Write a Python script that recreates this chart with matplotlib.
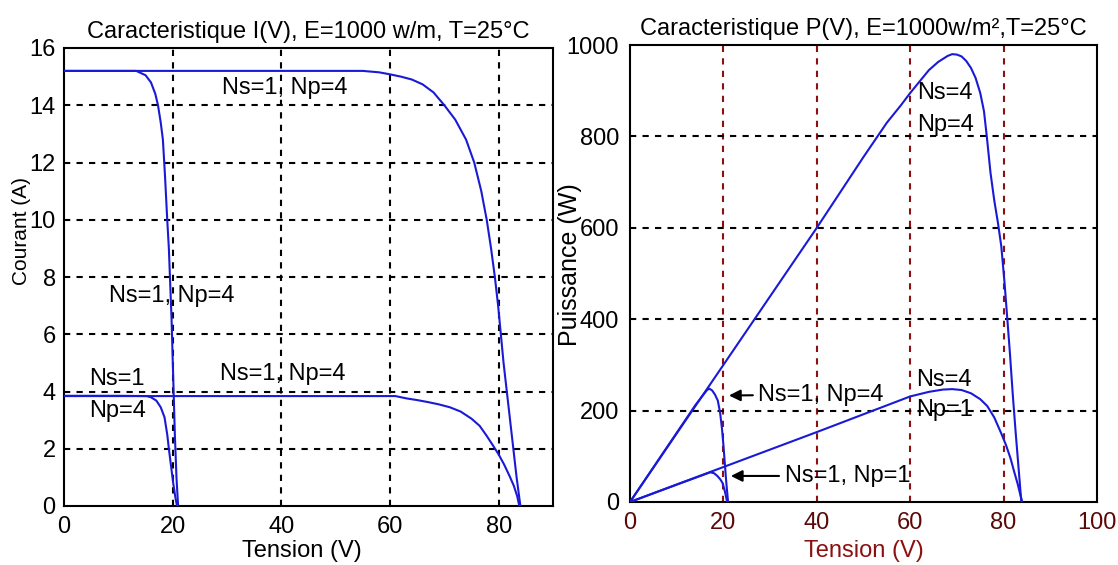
import matplotlib.pyplot as plt

# I(V) curves
v_a = [0, 5, 10, 13.3, 15, 16, 16.8, 17.3, 17.8, 18.2, 18.6, 19.0, 19.3, 19.5, 19.8, 20.1, 20.4, 20.7, 21.0]
i_a = [15.2, 15.2, 15.2, 15.2, 15.05, 14.8, 14.4, 14.0, 13.4, 12.8, 11.5, 10.0, 9.0, 8.0, 6.5, 4.5, 2.5, 1.0, 0]

v_b = [0, 20, 40, 55, 58, 60, 62, 64, 66, 68, 70, 72, 74, 75.5, 76.8, 77.8, 78.6, 79.3,
       79.9, 80.4, 80.9, 81.5, 82.1, 82.7, 83.3, 84.0]
i_b = [15.2, 15.2, 15.2, 15.2, 15.15, 15.08, 15.0, 14.9, 14.73, 14.45, 14.0, 13.5, 12.8, 12.0, 11.0, 10.0, 9.0, 8.0,
       7.0, 6.0, 5.0, 4.0, 3.0, 2.0, 1.0, 0]

v_c = [0, 10, 15.2, 16, 17, 17.8, 18.5, 19, 19.3, 19.7, 20.1, 20.5, 20.8]
i_c = [3.85, 3.85, 3.84, 3.8, 3.68, 3.45, 3.1, 2.5, 2.0, 1.4, 0.8, 0.3, 0]

v_d = [0, 20, 40, 61, 63, 65, 67, 69, 71, 73, 75, 76.5, 77.8, 79, 80, 81, 82, 82.8, 83.4, 83.8]
i_d = [3.84, 3.84, 3.84, 3.84, 3.76, 3.7, 3.63, 3.55, 3.45, 3.3, 3.05, 2.8, 2.45, 2.1, 1.8, 1.45, 1.05, 0.7, 0.35, 0]

# P(V) curves
v_p44 = [0, 20, 40, 50, 55, 58, 60, 62, 64, 66, 68, 69, 70, 71, 72, 73, 74, 75, 75.8, 76.4,
         77.2, 78, 78.8, 79.5, 80.2, 80.8, 81.3, 82, 82.6, 83.2, 83.8]
p_p44 = [0, 300, 600, 755, 830, 868, 895, 920, 945, 963, 976, 980, 979, 975, 965, 950, 928, 895, 855, 800,
         720, 660, 610, 560, 480, 400, 333, 230, 150, 75, 0]

v_p41 = [0, 40, 60, 64, 67, 69, 71, 73, 75, 76.5, 78, 79.5, 80.5, 81.5, 82.3, 83, 83.6, 84]
p_p41 = [0, 153, 231, 241, 246, 247, 245, 238, 225, 210, 185, 150, 125, 95, 65, 40, 15, 0]

v_p14 = [0, 14, 15.5, 16.5, 17, 17.6, 18.2, 18.8, 19.3, 19.7, 20.0, 20.3, 20.6, 21.0]
p_p14 = [0, 212, 232, 245, 248, 244, 235, 222, 195, 160, 125, 85, 45, 0]

v_p11 = [0, 10, 17.2, 18, 18.7, 19.3, 19.8, 20.2, 20.5, 20.8]
p_p11 = [0, 38, 65, 63, 57, 50, 42, 28, 15, 0]

x_ticks_i = [0, 20, 40, 60, 80]
y_ticks_i = [0, 2, 4, 6, 8, 10, 12, 14, 16]
x_ticks_p = [0, 20, 40, 60, 80, 100]
y_ticks_p = [0, 200, 400, 600, 800, 1000]

plt.rcParams['font.family'] = ['Liberation Sans', 'DejaVu Sans']
plt.rcParams['font.size'] = 17

blue = "#1a1ad6"
dred = "#8b1010"
grid_ls = (0, (3, 3))
fig = plt.figure(figsize=(11.18, 5.65), dpi=100)

###  L E F T :  I(V)
ax1 = fig.add_axes([64/1118, 1-506/565, 489/1118, 458/565])
for v, i in [(v_a, i_a), (v_b, i_b), (v_c, i_c), (v_d, i_d)]:
    ax1.plot(v, i, color=blue, lw=1.5, zorder=3)
ax1.set_xlim(0, 90)
ax1.set_ylim(0, 16)
ax1.set_xticks(x_ticks_i)
ax1.set_yticks(y_ticks_i)
for x in [20, 40, 60, 80]:
    ax1.axvline(x, color="black", ls=grid_ls, lw=1.5, zorder=1)
for y in y_ticks_i[1:-1]:
    ax1.axhline(y, color="black", ls=grid_ls, lw=1.5, zorder=1)
ax1.tick_params(length=0)
ax1.tick_params(axis="x", pad=7)
ax1.tick_params(axis="y", pad=6)
ax1.set_xlabel("Tension (V)")
ax1.xaxis.set_label_coords(0.486, -0.075)
ax1.set_ylabel("Courant (A)", fontsize=15)
ax1.yaxis.set_label_coords(-0.068, 0.60)
ax1.set_title("Caracteristique I(V), E=1000 w/m, T=25°C", fontsize=17, pad=7)
ax1.text(29, 14.6, "Ns=1, Np=4", va="center")
ax1.text(8.2, 7.33, "Ns=1, Np=4", va="center")
ax1.text(4.6, 4.42, "Ns=1", va="center")
ax1.text(4.6, 3.31, "Np=4", va="center")
ax1.text(28.7, 4.6, "Ns=1, Np=4", va="center")
for s in ax1.spines.values():
    s.set_linewidth(1.5)

###  R I G H T :  P(V)
ax2 = fig.add_axes([630/1118, 1-502/565, 467/1118, 457/565])
for v, p in [(v_p44, p_p44), (v_p41, p_p41), (v_p14, p_p14), (v_p11, p_p11)]:
    ax2.plot(v, p, color=blue, lw=1.5, zorder=3)
ax2.set_xlim(0, 100)
ax2.set_ylim(0, 1000)
ax2.set_xticks(x_ticks_p)
ax2.set_yticks(y_ticks_p)
for x in [20, 40, 60, 80]:
    ax2.axvline(x, color=dred, ls=grid_ls, lw=1.5, zorder=1)
for y in y_ticks_p[1:-1]:
    ax2.axhline(y, color="black", ls=grid_ls, lw=1.5, zorder=1)
ax2.tick_params(length=0)
ax2.tick_params(axis="x", pad=7, labelcolor="#5a0808")
ax2.tick_params(axis="y", pad=8)
ax2.set_xlabel("Tension (V)", color=dred)
ax2.xaxis.set_label_coords(0.50, -0.083)
ax2.set_ylabel("Puissance (W)", fontsize=18)
ax2.yaxis.set_label_coords(-0.103, 0.52)
ax2.set_title("Caracteristique P(V), E=1000w/m²,T=25°C", fontsize=17, pad=7)
ax2.annotate("Ns=1, Np=4", xy=(20.6, 233), xytext=(27.5, 235), va="center",
             arrowprops=dict(arrowstyle="-|>", color="black", lw=1.5))
ax2.annotate("Ns=1, Np=1", xy=(21, 57), xytext=(33.1, 57), va="center",
             arrowprops=dict(arrowstyle="-|>", color="black", lw=1.5))
ax2.text(61.2, 268, "Ns=4", va="center")
ax2.text(61.2, 202, "Np=1", va="center")
ax2.text(61.5, 895, "Ns=4", va="center")
ax2.text(61.5, 825, "Np=4", va="center")
for s in ax2.spines.values():
    s.set_linewidth(1.5)

fig.savefig("out.png", dpi=100)
